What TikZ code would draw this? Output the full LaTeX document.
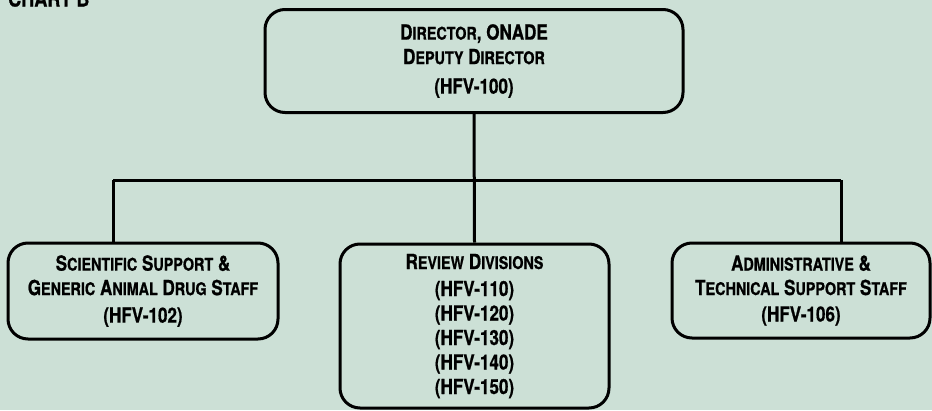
\documentclass[tikz,border=0pt]{standalone}
\usepackage{fontspec}
\setmainfont{TeX Gyre Heros}[FakeStretch=0.82, BoldFeatures={FakeBold=0.8}]
\definecolor{bg}{RGB}{204,224,214}
\newcommand\sm[1]{{\fontsize{17.5}{24.5}\selectfont #1}}
\tikzset{
  orgbox/.style={draw=black, line width=3pt, rounded corners=20pt, align=center,
    inner sep=0pt, font=\bfseries\fontsize{20.8}{24.5}\selectfont},
  link/.style={draw=black, line width=3pt}
}
\begin{document}
\begin{tikzpicture}[x=1pt,y=-1pt]
\fill[bg] (0,0) rectangle (932,410);
\useasboundingbox (0,0) rectangle (932,410);
\clip (0,0) rectangle (932,410);
\node[anchor=base west, inner sep=0pt, font=\bfseries\fontsize{22}{24}\selectfont] (title) at (8,6.5) {CHART B};
\node[orgbox, minimum width=418pt, minimum height=103pt] (top) at (474,61)
  {D\sm{IRECTOR}, ONADE\\ D\sm{EPUTY} D\sm{IRECTOR}\\[5pt] (HFV-100)};
\node[orgbox, minimum width=270pt, minimum height=96pt] (left) at (143,291)
  {S\sm{CIENTIFIC} S\sm{UPPORT} \&\\ G\sm{ENERIC} A\sm{NIMAL} D\sm{RUG} S\sm{TAFF}\\[3pt] (HFV-102)};
\node[orgbox, minimum width=269pt, minimum height=164pt] (mid) at (474.5,326)
  {R\sm{EVIEW} D\sm{IVISIONS}\\[2.5pt] (HFV-110)\\ (HFV-120)\\ (HFV-130)\\ (HFV-140)\\ (HFV-150)};
\node[orgbox, minimum width=258pt, minimum height=95pt] (right) at (801,290.5)
  {A\sm{DMINISTRATIVE} \&\\ T\sm{ECHNICAL} S\sm{UPPORT} S\sm{TAFF}\\[2pt] (HFV-106)};
\coordinate (lbus) at (113,180);
\coordinate (rbus) at (841,180);
\draw[link] (top.south) -- (mid.north);
\draw[link] (lbus) -- (rbus);
\draw[link] (lbus) -- (lbus |- left.north);
\draw[link] (rbus) -- (rbus |- right.north);
\end{tikzpicture}
\end{document}
